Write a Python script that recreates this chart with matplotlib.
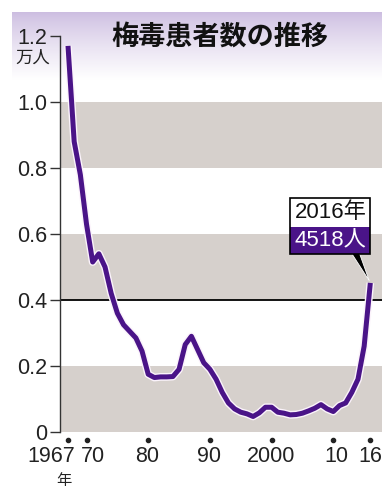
import numpy as np
import matplotlib
matplotlib.use("Agg")
import matplotlib.pyplot as plt
import matplotlib.transforms as mtransforms
import matplotlib.patheffects as pe
from matplotlib.patches import Rectangle, Polygon

# ---- data ----
years = list(range(1967, 2017))
cases_10k = [1.17, 0.88, 0.78, 0.63, 0.515, 0.54, 0.50, 0.42, 0.36, 0.325,
             0.305, 0.285, 0.245, 0.175, 0.165, 0.167, 0.167, 0.168, 0.19, 0.265,
             0.29, 0.25, 0.21, 0.19, 0.16, 0.12, 0.088, 0.07, 0.06, 0.055,
             0.047, 0.058, 0.075, 0.075, 0.06, 0.057, 0.052, 0.053, 0.057, 0.064,
             0.072, 0.083, 0.07, 0.062, 0.08, 0.088, 0.12, 0.16, 0.26, 0.4518]
ytick_vals = [0, 0.2, 0.4, 0.6, 0.8, 1.0, 1.2]
ytick_labels = ["0", "0.2", "0.4", "0.6", "0.8", "1.0", "1.2"]
xtick_years = [1967, 1970, 1980, 1990, 2000, 2010, 2016]
xtick_labels = ["1967", "70", "80", "90", "2000", "10", "16"]
xtick_dx = [-17, 6, -1, -1, -1, 3, 0]
band_ranges = [(0, 0.2), (0.4, 0.6), (0.8, 1.0)]
title = "梅毒患者数の推移"
unit = "万人"
last_year_label = "2016年"
last_value_label = "4518人"

FONT = ["Liberation Sans", "Noto Sans CJK JP"]
NARROW = ["Liberation Sans Narrow", "Liberation Sans", "Noto Sans CJK JP"]
plt.rcParams["font.family"] = FONT

PURPLE = "#4a1488"
GRAY = "#d6d0cc"

W, H = 382, 487
fig = plt.figure(figsize=(W / 100, H / 100), dpi=100)

# gradient header background
bg = fig.add_axes([12 / W, (H - 80) / H, (W - 12) / W, 68 / H])
top = np.array([0.80, 0.74, 0.88])
grad = np.linspace(0, 1, 100)[:, None] ** 0.8
img = top[None, None, :] * (1 - grad[:, :, None]) + np.ones(3)[None, None, :] * grad[:, :, None]
img = np.repeat(img, 2, axis=1)
bg.imshow(img, aspect="auto", extent=[0, 1, 0, 1])
bg.axis("off")
bg.set_zorder(0)

ax = fig.add_axes([60 / W, (H - 432) / H, (W - 60) / W, (432 - 12) / H])
ax.set_zorder(1)
ax.patch.set_alpha(0)
ax.set_xlim(1967 + (60 - 68) / 6.17, 1967 + (382 - 68) / 6.17)
ax.set_ylim(0, 420 / 330)

for lo, hi in band_ranges:
    ax.axhspan(lo, hi, color=GRAY, lw=0, zorder=1)
ax.axhline(0.4, color="black", lw=1.3, zorder=2)

ax.plot(years, cases_10k, color=PURPLE, lw=3.6, solid_joinstyle="round",
        solid_capstyle="butt", zorder=4,
        path_effects=[pe.Stroke(linewidth=5.6, foreground="#fbf3fb"), pe.Normal()])

for s in ["top", "right", "bottom"]:
    ax.spines[s].set_visible(False)
ax.spines["left"].set_bounds(0, 1.2)
ax.spines["left"].set_linewidth(1.0)
ax.spines["left"].set_color("#333333")

ax.set_yticks(ytick_vals)
ax.set_yticklabels(ytick_labels)
ax.tick_params(axis="y", direction="out", length=7, width=1, pad=2,
               labelsize=15.5, colors="#333333", labelcolor="#222222")
ax.set_xticks([])

# x tick dots and labels
blend = mtransforms.blended_transform_factory(ax.transData, ax.transAxes)
dot_tr = mtransforms.offset_copy(blend, fig=fig, y=-8, units="dots")
ax.plot(xtick_years, [0] * len(xtick_years), ls="none", marker="o", ms=3,
        color="#222222", transform=dot_tr, clip_on=False)
for yr, lab, dx in zip(xtick_years, xtick_labels, xtick_dx):
    ax.annotate(lab, xy=(yr, 0), xycoords=("data", "axes fraction"),
                xytext=(dx, -24), textcoords="offset pixels",
                ha="center", va="center", fontsize=15.5, color="#222222")
ax.annotate("年", xy=(1967, 0), xycoords=("data", "axes fraction"),
            xytext=(-4, -48), textcoords="offset pixels",
            ha="center", va="center", fontsize=11, color="#222222",
            family=["Noto Sans CJK JP"])

# title and unit
fig.text(220 / W, 1 - 37 / H, title, ha="center", va="center", fontsize=19.5,
         fontweight="bold", color="#111111", family=["Noto Sans CJK JP"])
fig.text(33 / W, 1 - 58 / H, unit, ha="center", va="center", fontsize=12.5,
         color="#222222", family=["Noto Sans CJK JP"])

# annotation callout (positioned in pixels relative to the last data point)
px, py = ax.transData.transform((years[-1], cases_10k[-1]))
ident = mtransforms.IdentityTransform()
fig.patches.append(Polygon([(px - 19, py + 30), (px - 11, py + 30), (px - 1, py + 2)],
                           closed=True, fc="black", ec="white", lw=0.6,
                           transform=ident, figure=fig, zorder=5))
fig.patches.append(Rectangle((px - 80, py + 29), 80, 27, fc=PURPLE, ec="none",
                             transform=ident, figure=fig, zorder=6))
fig.patches.append(Rectangle((px - 80, py + 56), 80, 29, fc="white", ec="none",
                             transform=ident, figure=fig, zorder=6))
fig.patches.append(Rectangle((px - 80, py + 29), 80, 56, fc="none", ec="black", lw=1.2,
                             transform=ident, figure=fig, zorder=7))
fig.text(px - 40, py + 70, last_year_label, transform=ident, ha="center",
         va="center", fontsize=16, color="#111111", zorder=8, family=NARROW)
fig.text(px - 40, py + 42, last_value_label, transform=ident, ha="center",
         va="center", fontsize=16, color="white", zorder=8, family=NARROW)

fig.savefig("out.png", dpi=100)
